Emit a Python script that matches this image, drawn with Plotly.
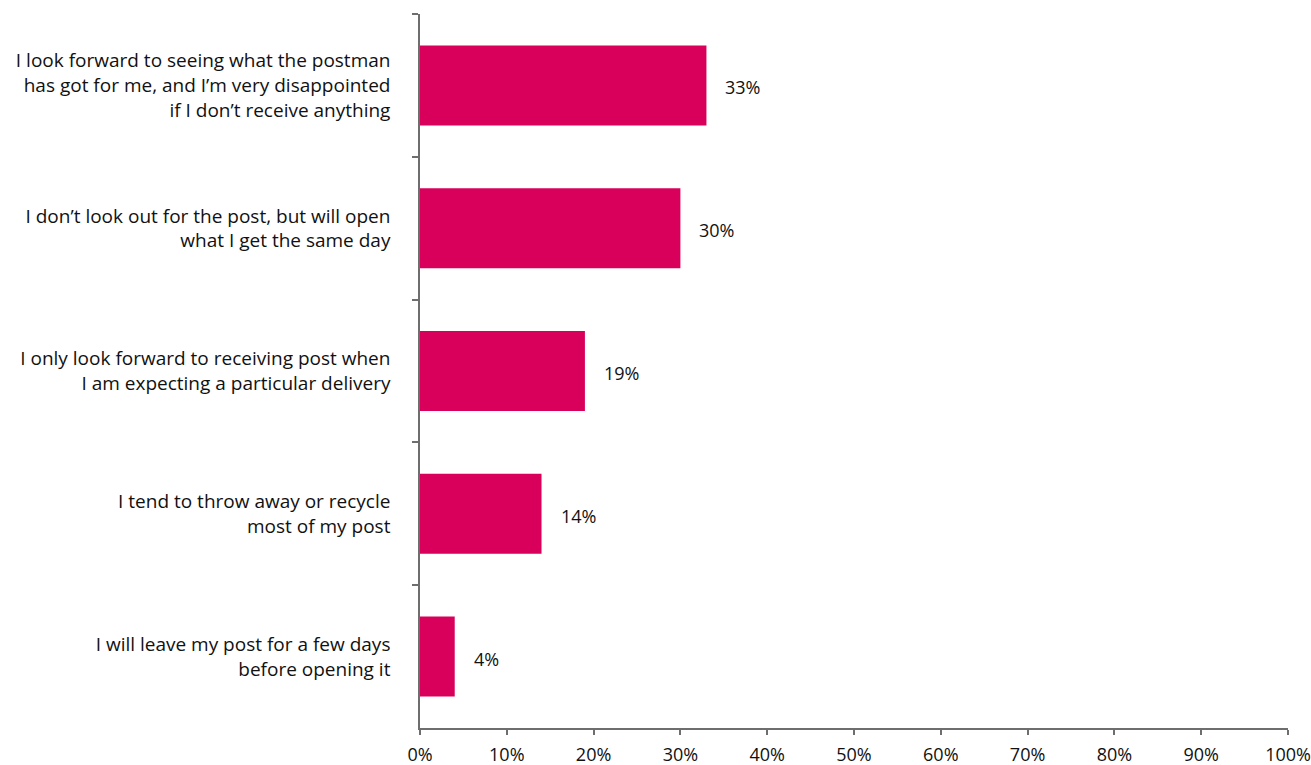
import plotly.graph_objects as go

# Survey responses: attitude towards receiving post
statements = [
    "I look forward to seeing what the postman<br>has got for me, and I\u2019m very disappointed<br>if I don\u2019t receive anything",
    "I don\u2019t look out for the post, but will open<br>what I get the same day",
    "I only look forward to receiving post when<br>I am expecting a particular delivery",
    "I tend to throw away or recycle<br>most of my post",
    "I will leave my post for a few days<br>before opening it",
]
shares = [33, 30, 19, 14, 4]
x_ticks = [0, 10, 20, 30, 40, 50, 60, 70, 80, 90, 100]
x_tick_labels = [f"{v}%" for v in x_ticks]

BAR_COLOR = "#D9005B"
AXIS_COLOR = "#6e6e6e"
TEXT_COLOR = "#111111"
FONT = "Open Sans"
FS = 19

fig = go.Figure(
    go.Bar(
        x=shares,
        y=statements,
        orientation="h",
        marker=dict(color=BAR_COLOR, line=dict(width=0)),
        hoverinfo="skip",
    )
)

# Percentage labels to the right of each bar
for s, v in zip(statements, shares):
    fig.add_annotation(
        x=v, y=s, text=f"{v}%", showarrow=False,
        xanchor="left", xshift=17, yshift=-2,
        font=dict(family=FONT, size=18, color=TEXT_COLOR),
    )

fig.update_layout(
    width=1311, height=765,
    margin=dict(l=420, r=23, t=14, b=37, autoexpand=False),
    paper_bgcolor="white", plot_bgcolor="white",
    bargap=0.44,
    showlegend=False,
    font=dict(family=FONT, size=FS, color=TEXT_COLOR),
)
fig.update_xaxes(
    range=[0, 100], automargin=False,
    tickvals=x_ticks, ticktext=x_tick_labels,
    showgrid=False, zeroline=False,
    showline=True, linecolor=AXIS_COLOR, linewidth=1.5,
    ticks="outside", ticklen=5, tickcolor=AXIS_COLOR, tickwidth=1.5,
    ticklabelstandoff=5,
    tickfont=dict(family=FONT, size=18, color=TEXT_COLOR),
)
fig.update_yaxes(
    autorange="reversed", automargin=False,
    showgrid=False, zeroline=False,
    showline=True, linecolor=AXIS_COLOR, linewidth=1.5,
    ticks="outside", tickson="boundaries", ticklen=6,
    tickcolor=AXIS_COLOR, tickwidth=1.5,
    ticklabelstandoff=24,
    tickfont=dict(family=FONT, size=FS, color=TEXT_COLOR),
)

fig.write_html("out.html")
